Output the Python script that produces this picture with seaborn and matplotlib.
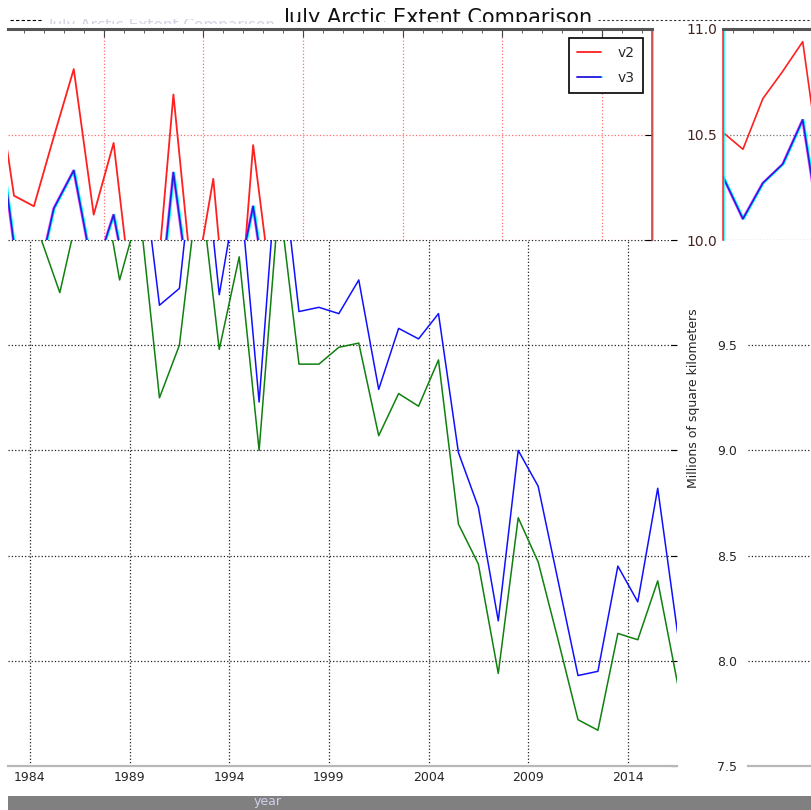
import matplotlib
matplotlib.use("Agg")
import matplotlib.pyplot as plt
import matplotlib.patheffects as pe
from matplotlib.ticker import MultipleLocator
from matplotlib.transforms import Bbox, TransformedBbox
import numpy as np
import seaborn as sns

# upper strip (10-11 million km2): v2 and v3, 1979-1993
top_years = np.arange(1979, 1994)
top_v2 = [10.85, 10.21, 10.16, 10.49, 10.81, 10.12, 10.46, 9.65, 9.60,
          10.69, 9.74, 10.29, 9.25, 10.45, 9.70]
top_v3 = [10.70, 9.98, 9.73, 10.15, 10.33, 9.83, 10.12, 9.63, 9.41,
          10.32, 9.62, 9.60, 9.70, 10.16, 9.52]

# lower part (7.5-10 million km2), 1983-2016
low_years = np.arange(1983, 2017)
low_blue = [10.55, 10.40, 10.45, 10.60, 10.35, 10.50, 10.47, 9.69, 9.77, 10.65,
            9.74, 10.29, 9.23, 10.49, 9.66, 9.68, 9.65, 9.81, 9.29, 9.58,
            9.53, 9.65, 8.99, 8.73, 8.19, 9.00, 8.83, 8.38, 7.93, 7.95,
            8.45, 8.28, 8.82, 8.13]
low_green = [10.25, 10.02, 9.75, 10.17, 10.35, 9.81, 10.15, 9.25, 9.50, 10.30,
             9.48, 9.92, 9.00, 10.20, 9.41, 9.41, 9.49, 9.51, 9.07, 9.27,
             9.21, 9.43, 8.65, 8.46, 7.94, 8.68, 8.47, 8.10, 7.72, 7.67,
             8.13, 8.10, 8.38, 7.89]

# small panel on the right
inset_years = np.arange(1980, 1986)
inset_v2 = [10.51, 10.43, 10.67, 10.80, 10.94, 10.26]
inset_v3 = [10.30, 10.10, 10.27, 10.36, 10.57, 9.96]

JULY = 0.5  # plot each July at mid year

sns.set_style("white")
plt.rcParams['font.family'] = ['DejaVu Sans']

W, H = 812, 810
fig = plt.figure(figsize=(W / 100, H / 100), dpi=100)
PXW = 19.93  # pixels per year


def fx(px):
    return px / W


def fy(px):
    return 1 - px / H


fringe = [pe.SimpleLineShadow(offset=(0.7, 0), shadow_color='cyan', alpha=1.0),
          pe.SimpleLineShadow(offset=(-0.5, 0), shadow_color='magenta', alpha=0.7),
          pe.Normal()]

# ---- background layer for the stray dashed rule at the top
axbg = fig.add_axes([0, 0, 1, 1], zorder=-1)
axbg.set_xlim(0, 1)
axbg.set_ylim(0, 1)
axbg.set_xticks([])
axbg.set_yticks([])
for s in axbg.spines.values():
    s.set_visible(False)
axbg.axhline(fy(20), xmin=fx(10), xmax=fx(42), ls='--', color='k', lw=0.8, dashes=(3, 2))
axbg.axhline(fy(19.5), xmin=fx(598), xmax=1, ls='--', color='#333333', lw=0.8, dashes=(2, 2))

# ---- lower main axes
ax = fig.add_axes([fx(8), fy(766), fx(669), (766 - 240) / H])
sns.lineplot(x=low_years + JULY, y=low_blue, ax=ax, color='#1010ff', lw=1.1)
sns.lineplot(x=low_years + JULY, y=low_green, ax=ax, color='#108010', lw=1.1)
ax.set_xlim(1982.9, 1982.9 + 669 / PXW)
ax.set_ylim(7.5, 10.0)
ax.set_xticks(np.arange(1984, 2017, 5))
ax.xaxis.set_minor_locator(MultipleLocator(1))
ax.set_yticks(np.arange(7.5, 10.01, 0.5))
ax.yaxis.tick_right()
ax.tick_params(axis='y', direction='in', length=4, labelright=False, color='k')
ax.tick_params(axis='x', which='major', direction='in', length=5, labelsize=9, color='k')
ax.tick_params(axis='x', which='minor', direction='in', length=2.5, color='k')
for s in ['top', 'left', 'right']:
    ax.spines[s].set_visible(False)
ax.spines['bottom'].set_color('#b8b8b8')
ax.spines['bottom'].set_linewidth(1.6)
ax.grid(True, which='major', linestyle=':', color='#222222', lw=0.9)
ax.set_xlabel('')
ax.set_ylabel('')

# ---- upper strip with v2 / v3
axt = fig.add_axes([fx(8), fy(240), fx(644), 211 / H], zorder=3)
sns.lineplot(x=top_years + JULY, y=top_v2, ax=axt, color='#ff2020', lw=1.3, label='v2')
sns.lineplot(x=top_years + JULY, y=top_v3, ax=axt, color='#2020dd', lw=1.2,
             label='v3', path_effects=fringe)
axt.set_xlim(1980.2, 1980.2 + 644 / PXW)
axt.set_ylim(10.0, 11.0)
axt.xaxis.set_major_locator(MultipleLocator(5))
axt.xaxis.set_minor_locator(MultipleLocator(1))
axt.set_yticks([10.0, 10.5, 11.0])
axt.xaxis.tick_top()
axt.yaxis.tick_right()
axt.tick_params(axis='x', which='major', direction='in', length=6, labeltop=False, color='#444444')
axt.tick_params(axis='x', which='minor', direction='in', length=3, color='#444444')
axt.tick_params(axis='y', direction='in', length=5, labelright=False, color='k')
for s in ['left', 'bottom']:
    axt.spines[s].set_visible(False)
axt.spines['top'].set_color('#555555')
axt.spines['top'].set_linewidth(2.2)
axt.spines['right'].set_color('#ff2020')
axt.spines['right'].set_linewidth(1.1)
axt.spines['right'].set_path_effects([pe.SimpleLineShadow(offset=(1, 0), shadow_color='cyan', alpha=1), pe.Normal()])
axt.grid(True, which='major', linestyle=':', color='#ff7070', lw=0.9)
axt.set_xlabel('')
axt.set_ylabel('')
leg = axt.legend(loc='upper right', fontsize=10, frameon=True, fancybox=False,
                 edgecolor='black', framealpha=1, handlelength=1.7,
                 handletextpad=1.2, labelspacing=0.75, borderpad=0.6,
                 borderaxespad=0.65)
leg.get_frame().set_linewidth(1.2)

# ---- small panel at top right
axi = fig.add_axes([fx(723), fy(240), 0.4, 211 / H], zorder=3)
sns.lineplot(x=inset_years + JULY, y=inset_v2, ax=axi, color='#ff2020', lw=1.2)
sns.lineplot(x=inset_years + JULY, y=inset_v3, ax=axi, color='#2020dd', lw=1.2,
             path_effects=fringe)
axi.set_xlim(1980.5, 1980.5 + 0.4 * W / PXW)
axi.set_ylim(10.0, 11.0)
axi.xaxis.set_major_locator(MultipleLocator(5))
axi.xaxis.set_minor_locator(MultipleLocator(1))
axi.set_yticks([10.0, 10.5, 11.0])
axi.set_yticklabels(['10.0', '10.5', '11.0'])
axi.xaxis.tick_top()
axi.tick_params(axis='x', which='major', direction='in', length=6, labeltop=False, color='#444444')
axi.tick_params(axis='x', which='minor', direction='in', length=3, color='#444444')
axi.tick_params(axis='y', direction='in', length=4, labelsize=10, labelcolor='#442222', pad=4)
for s in ['right', 'bottom']:
    axi.spines[s].set_visible(False)
axi.spines['top'].set_color('#555555')
axi.spines['top'].set_linewidth(2.2)
axi.spines['left'].set_color('#ff2020')
axi.spines['left'].set_linewidth(1.1)
axi.spines['left'].set_path_effects([pe.SimpleLineShadow(offset=(1, 0), shadow_color='cyan', alpha=1), pe.Normal()])
axi.grid(True, axis='x', which='major', linestyle=':', color='#ff7070', lw=0.9)
axi.grid(True, axis='y', which='major', linestyle=':', color='#777777', lw=0.9)
axi.set_xlabel('')
axi.set_ylabel('')

# ---- right y axis for the lower part
axr = fig.add_axes([fx(748), fy(766), 0.3, (766 - 240) / H])
axr.set_xlim(-0.6, -0.6 + 0.3 * W / PXW)
axr.set_ylim(7.5, 10.0)
axr.set_yticks([7.5, 8.0, 8.5, 9.0, 9.5])
axr.set_yticklabels(['7.5', '8.0', '8.5', '9.0', '9.5'])
axr.xaxis.set_major_locator(MultipleLocator(1))
axr.tick_params(axis='x', direction='in', length=2.5, labelbottom=False, color='k')
axr.tick_params(axis='y', direction='out', length=4, labelsize=9, pad=4, color='#333333')
for s in ['top', 'left', 'right']:
    axr.spines[s].set_visible(False)
axr.spines['bottom'].set_color('#b8b8b8')
axr.spines['bottom'].set_linewidth(1.6)
axr.grid(True, axis='y', linestyle=':', color='#222222', lw=0.9)
axr.set_ylabel('Millions of square kilometers', fontsize=9)
axr.yaxis.set_label_coords(fx(700), fy(398), transform=fig.transFigure)

# ---- title, clipped along its lower edge
title = fig.text(fx(438), fy(23.5), 'July Arctic Extent Comparison', fontsize=15,
                 ha='center', va='baseline', color='#111111')
title.set_clip_box(TransformedBbox(Bbox([[0, fy(21.5)], [1, 1]]), fig.transFigure))
title.set_clip_on(True)
# faint smeared copy to the left, only a thin band shows
ghost = fig.text(fx(276), fy(30), 'July Arctic Extent Comparison', fontsize=11,
                 ha='right', va='baseline', color='#9a90c0', alpha=0.4)
ghost.set_clip_box(TransformedBbox(Bbox([[0, fy(24)], [1, fy(19)]]), fig.transFigure))
ghost.set_clip_on(True)

# ---- grey strip at the bottom with the year label
axb = fig.add_axes([fx(8), 0, fx(804), 14 / H], zorder=4)
axb.set_facecolor('#808080')
axb.set_xticks([])
axb.set_yticks([])
for s in axb.spines.values():
    s.set_visible(False)
fig.text(fx(268), fy(801), 'year', fontsize=9, ha='center', va='center',
         color='#d0d0ee', zorder=5)

fig.savefig('out.png', dpi=100)
